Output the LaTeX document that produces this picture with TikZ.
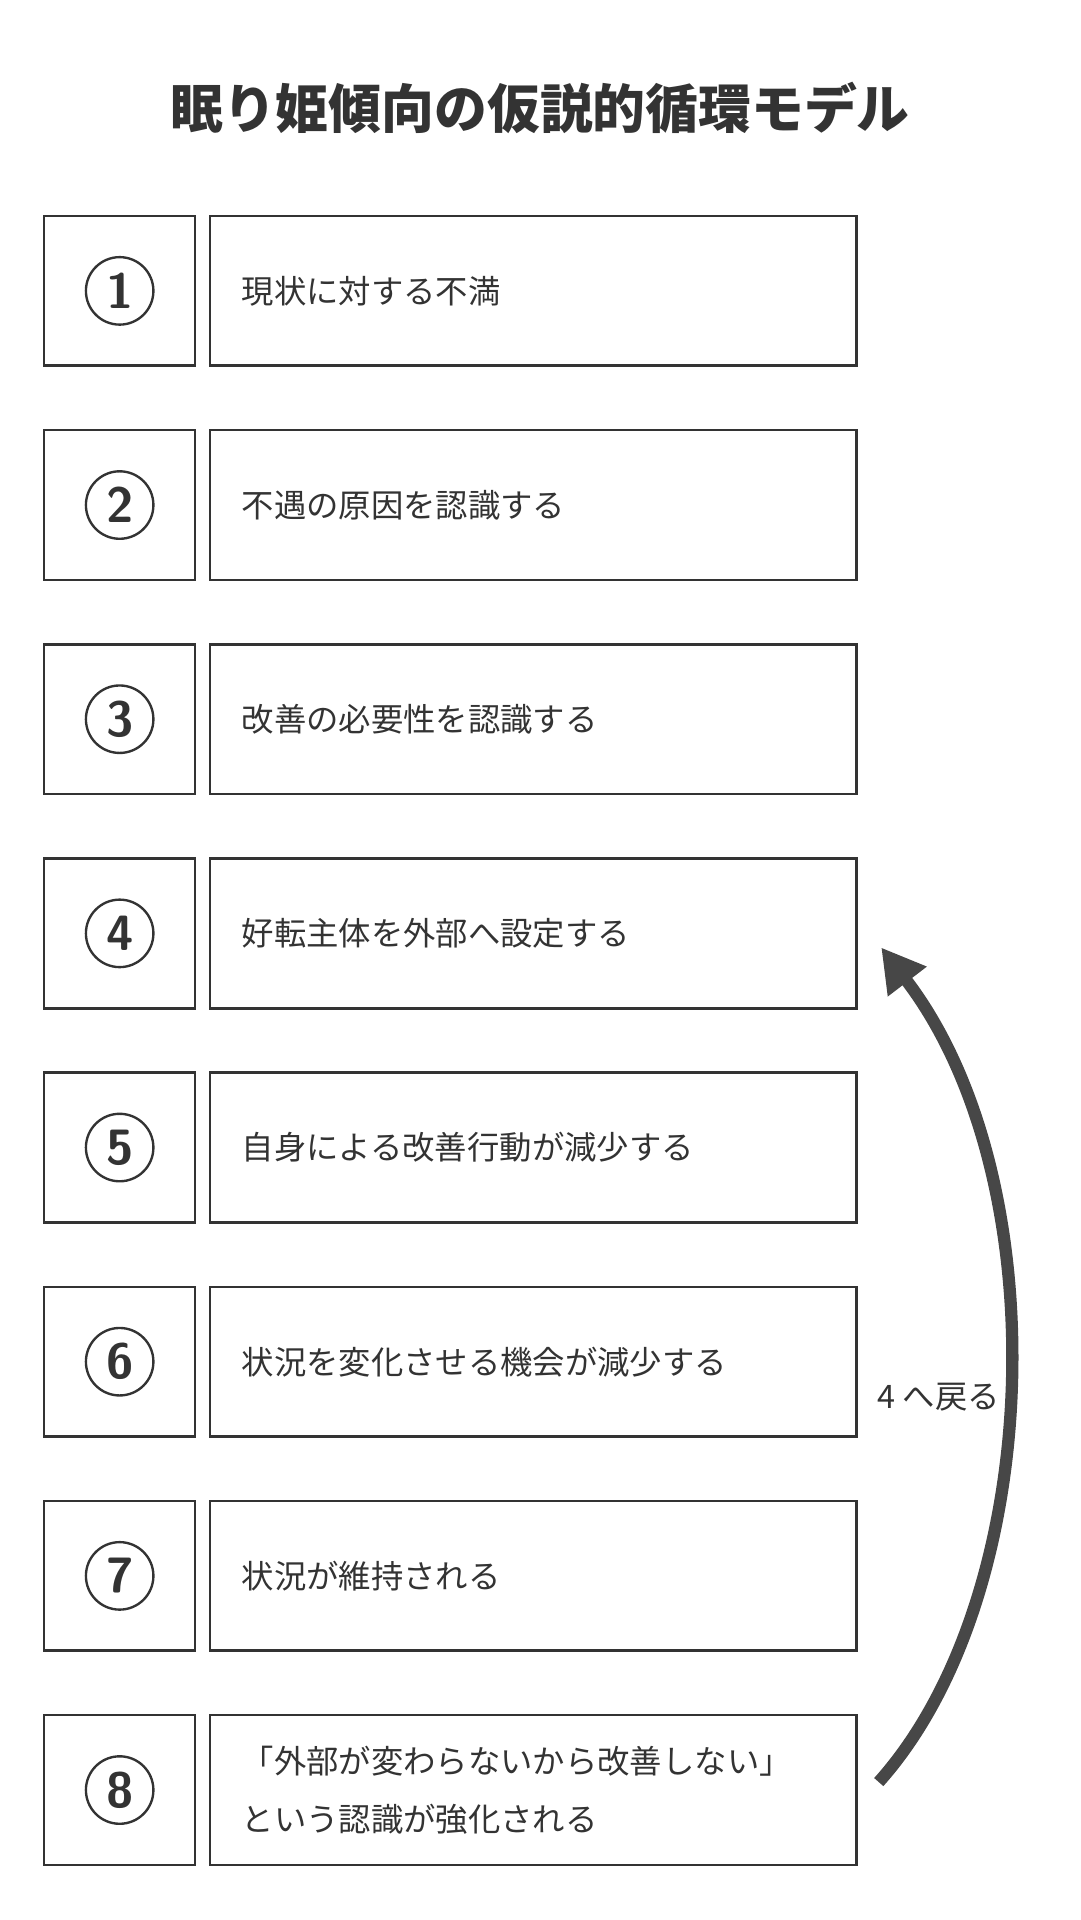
\documentclass[tikz,border=0pt]{standalone}
\usepackage{fontspec}
\newfontfamily\jpfont{Noto Sans CJK JP}
\usetikzlibrary{arrows.meta,positioning}
\definecolor{ink}{HTML}{333333}
\definecolor{loopgray}{HTML}{474747}
\tikzset{
  numbox/.style={draw=ink,line width=1.2pt,minimum width=2.46cm,minimum height=2.44cm,inner sep=0pt},
  stepbox/.style={draw=ink,line width=1.2pt,minimum width=10.54cm,minimum height=2.44cm,
    text width=9.5cm,align=left,inner sep=0pt,font=\jpfont\fontsize{15}{27}\selectfont,text=ink},
  circnum/.style={circle,draw=ink,line width=1.1pt,minimum size=1.1cm,inner sep=0pt,
    font=\sffamily\bfseries\fontsize{23}{23}\selectfont,text=ink}
}
\begin{document}
\begin{tikzpicture}[x=0.02cm,y=-0.02cm]
\useasboundingbox (0,0) rectangle (880,1564.4);
\node[font=\jpfont\bfseries\fontsize{24.5}{24.5}\selectfont,text=ink] (title) at (440,88) {眠り姫傾向の仮説的循環モデル};
\foreach \t [count=\n] in {現状に対する不満,不遇の原因を認識する,改善の必要性を認識する,好転主体を外部へ設定する,自身による改善行動が減少する,状況を変化させる機会が減少する,状況が維持される,{「外部が変わらないから改善しない」\\という認識が強化される}}{
  \node[numbox] (num\n) at (97.5,{237+174.5*(\n-1)}) {};
  \node[circnum] (c\n) at (num\n) {\n};
  \node[stepbox] (box\n) at (434.5,{237+174.5*(\n-1)}) {\t};
}
\coordinate (from) at (716,1452);
\coordinate (to) at (718,772);
\draw[color=loopgray,line width=0.2cm,-{Triangle[length=0.7cm,width=0.75cm]}]
  (from) .. controls (852,1300) and (862,960) .. (to);
\node[font=\jpfont\fontsize{15}{16}\selectfont,text=ink] (back) at (765,1138) {4 へ戻る};
\end{tikzpicture}
\end{document}
